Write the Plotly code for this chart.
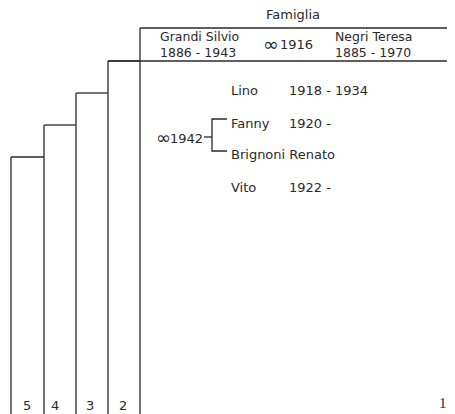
import plotly.graph_objects as go

# ---- data ----
title = "Famiglia"
father_name = "Grandi Silvio"
father_years = "1886 - 1943"
marriage_year = "1916"
mother_name = "Negri Teresa"
mother_years = "1885 - 1970"
children = ["Lino", "Fanny", "Brignoni Renato", "Vito"]
children_years = ["1918 - 1934", "1920 -", "", "1922 -"]
child_marriage_year = "1942"
generations = ["5", "4", "3", "2"]
page_number = "1"

# ---- layout constants (pixels of the page) ----
W, H = 455, 414
PAD = 8                                  # page body margin
col_x = [11, 44, 76, 108, 140]           # vertical generation lines
step_y = [157, 125, 93, 61, 28]          # top of each vertical line
gen_label_x = [27, 55, 90, 123]
gen_label_y = 405
child_y = [90, 123, 154, 187]
name_x = 229
year_x = 287
ink = "#2a2a2a"
font = dict(family="DejaVu Sans", size=13, color=ink)

fig = go.Figure()

def seg(xs, ys):
    fig.add_trace(go.Scatter(x=xs, y=ys, mode="lines",
                             line=dict(color=ink, width=1.3),
                             hoverinfo="skip", showlegend=False))

# staircase of generation columns
for i in range(len(col_x)):
    seg([col_x[i], col_x[i]], [step_y[i], H + 2])
    if i < len(col_x) - 1:
        seg([col_x[i], col_x[i + 1]], [step_y[i], step_y[i]])
# header lines
seg([col_x[-1], W + 2], [step_y[-1], step_y[-1]])
seg([col_x[-2], W + 2], [step_y[-2], step_y[-2]])

# bracket for marriage of Fanny
bx = 212
seg([bx + 15, bx, bx, bx + 15], [119, 119, 151, 151])
seg([204, bx], [137, 137])

ann = []
def txt(x, y, s, anchor="left", size=13, family="DejaVu Sans", align="left"):
    ann.append(dict(x=x, y=y, text=s, showarrow=False, xanchor=anchor,
                    yanchor="middle", align=align,
                    font=dict(font, size=size, family=family)))

txt(293, 14, title, "center")
txt(158, 44, father_name + "<br>" + father_years, size=12.5)
txt(261, 44, "∞", size=19)
txt(278, 44, marriage_year)
txt(333, 44, mother_name + "<br>" + mother_years, size=12.5)
for i, c in enumerate(children):
    txt(name_x, child_y[i], c)
    if children_years[i]:
        txt(year_x, child_y[i], children_years[i])
txt(154, 137, "∞", size=18)
txt(168, 138, child_marriage_year)
for i, g in enumerate(generations):
    txt(gen_label_x[i], gen_label_y, g, "center")
txt(443, 403, page_number, "center", size=15, family="Liberation Serif")

fig.update_layout(
    width=W - PAD, height=H - PAD, margin=dict(l=0, r=0, t=0, b=0),
    paper_bgcolor="white", plot_bgcolor="white",
    xaxis=dict(range=[PAD, W], visible=False, fixedrange=True),
    yaxis=dict(range=[H, PAD], visible=False, fixedrange=True),
    annotations=ann,
)
fig.write_html("out.html")
